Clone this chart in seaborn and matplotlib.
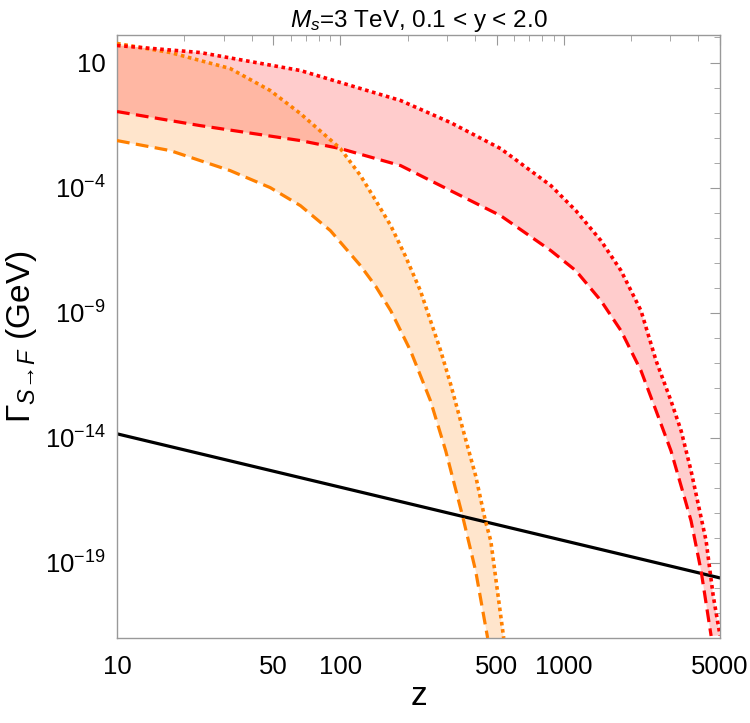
import numpy as np
import pandas as pd
import matplotlib
matplotlib.use("Agg")
import matplotlib.pyplot as plt
import matplotlib.ticker as mticker
import seaborn as sns

# values (z, log10 of Gamma in GeV)
red_dot_z = [10, 23.5, 66.2, 186, 311, 521, 875, 1132, 1466, 1803, 2215, 2588, 3017, 3350, 3711, 4333, 4660, 5000]
red_dot_lg = [1.68, 1.40, 0.68, -0.52, -1.40, -2.44, -3.92, -4.92, -6.12, -7.32, -8.92, -10.92, -12.52, -13.72,
              -15.32, -18.12, -20.3, -21.9]

red_dash_z = [10, 23.5, 66.2, 100, 186, 311, 521, 875, 1132, 1466, 1803, 2215, 2588, 3017, 3500, 3711, 4115, 4563]
red_dash_lg = [-0.96, -1.52, -2.12, -2.44, -3.12, -4.12, -5.12, -6.52, -7.32, -8.52, -9.72, -11.32, -12.92,
               -14.52, -16.52, -17.32, -19.32, -21.92]

orange_dot_z = [10, 17.3, 32.1, 48.5, 66.2, 100, 123, 144, 168, 195, 228, 281, 311, 345, 403, 445, 471, 538]
orange_dot_lg = [1.76, 1.40, 0.76, -0.12, -1.04, -2.44, -3.52, -4.52, -5.52, -6.72, -8.12, -10.52, -11.84,
                 -13.32, -15.52, -17.3, -18.12, -22.0]

orange_dash_z = [10, 17.3, 32.1, 48.5, 66.2, 90.2, 123, 144, 168, 206, 253, 296, 352, 403, 456]
orange_dash_lg = [-2.12, -2.52, -3.32, -4.0, -4.72, -5.72, -7.12, -7.95, -8.92, -10.52, -12.52, -14.52,
                  -17.12, -19.32, -22.0]

black_z = [10, 5000]
black_lg = [-13.84, -19.6]

x_ticks = [10, 50, 100, 500, 1000, 5000]
y_tick_exp = [1, -4, -9, -14, -19]

sns.set_theme(style="white")
plt.rcParams["font.family"] = ["Liberation Sans", "DejaVu Sans"]
plt.rcParams["mathtext.fontset"] = "custom"
plt.rcParams["mathtext.rm"] = "Liberation Sans"
plt.rcParams["mathtext.it"] = "Liberation Sans:italic"
plt.rcParams["mathtext.sf"] = "Liberation Sans"
plt.rcParams["text.color"] = "black"
plt.rcParams["axes.labelcolor"] = "black"

RED = "#ff0000"
ORANGE = "#ff8000"

fig = plt.figure(figsize=(7.5, 7.23), dpi=100)
ax = fig.add_axes([0.156, 0.1176, 0.804, 0.834])
ax.set_xscale("log")
ax.set_yscale("log")

def g(lg):
    return 10.0 ** np.array(lg)

# shaded bands
ax.fill(np.r_[orange_dot_z, orange_dash_z[::-1]],
        np.r_[g(orange_dot_lg), g(orange_dash_lg)[::-1]],
        color=ORANGE, alpha=0.2, lw=0, zorder=1)
ax.fill(np.r_[red_dot_z, red_dash_z[::-1]],
        np.r_[g(red_dot_lg), g(red_dash_lg)[::-1]],
        color=RED, alpha=0.2, lw=0, zorder=1)

lines = [
    (orange_dash_z, orange_dash_lg, ORANGE, (4, 2), 2.3),
    (red_dash_z, red_dash_lg, RED, (4, 2), 2.3),
    (orange_dot_z, orange_dot_lg, ORANGE, (1, 1), 2.6),
    (red_dot_z, red_dot_lg, RED, (1, 1), 2.6),
]
for zz, lg, col, dash, w in lines:
    df = pd.DataFrame({"z": zz, "G": g(lg)})
    l = sns.lineplot(data=df, x="z", y="G", ax=ax, color=col, lw=w,
                     sort=False, estimator=None)
    l.lines[-1].set_dashes(dash)
    l.lines[-1].set_dash_capstyle("butt")
    l.lines[-1].set_solid_joinstyle("round")
    l.lines[-1].set_zorder(3)

dfb = pd.DataFrame({"z": black_z, "G": g(black_lg)})
sns.lineplot(data=dfb, x="z", y="G", ax=ax, color="black", lw=2.3,
             sort=False, estimator=None)

ax.set_xlim(10, 5000)
ax.set_ylim(1e-22, 10 ** 2.1)

ax.xaxis.set_major_locator(mticker.FixedLocator(x_ticks))
ax.xaxis.set_major_formatter(mticker.FixedFormatter([str(t) for t in x_ticks]))
ax.xaxis.set_minor_locator(mticker.LogLocator(base=10, subs=np.arange(2, 10)))
ax.xaxis.set_minor_formatter(mticker.NullFormatter())

ax.yaxis.set_major_locator(mticker.FixedLocator([10.0 ** e for e in y_tick_exp]))
ax.yaxis.set_major_formatter(mticker.FixedFormatter(
    ["10" if e == 1 else "$10^{%d}$" % e for e in y_tick_exp]))
ax.yaxis.set_minor_locator(mticker.FixedLocator([10.0 ** e for e in range(-22, 3)]))
ax.yaxis.set_minor_formatter(mticker.NullFormatter())

ax.tick_params(which="both", direction="in", top=True, right=True,
               color="#999999", labelcolor="black", labelsize=18.5, pad=8)
ax.tick_params(which="major", length=7, width=0.8)
ax.tick_params(which="minor", length=4, width=0.6)
ax.tick_params(axis="x", pad=12)
for s in ax.spines.values():
    s.set_color("#999999")
    s.set_linewidth(1.0)

ax.set_xlabel("z", fontsize=24, labelpad=2)
ax.set_ylabel(r"$\Gamma_{S\!\to\! F}$ (GeV)", fontsize=24, labelpad=4)
ax.set_title(r"$M_s$=3 TeV, 0.1 < y < 2.0", fontsize=17.5, pad=6)

fig.savefig("out.png", dpi=100)
